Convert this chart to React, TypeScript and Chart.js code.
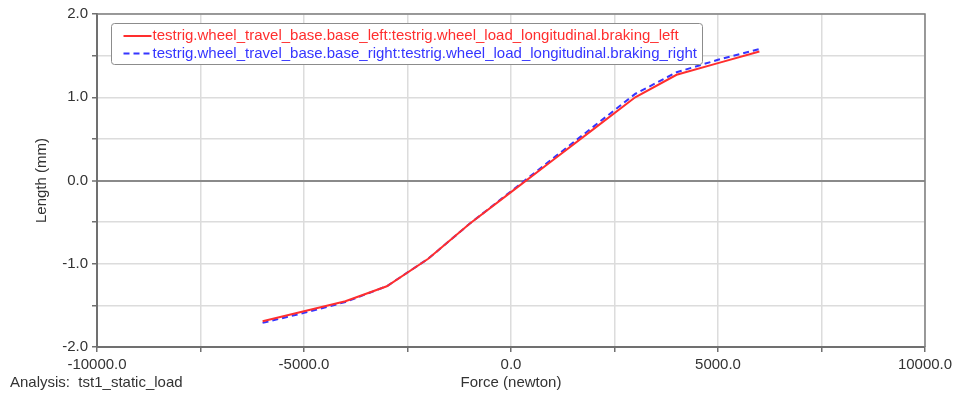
import React, { useEffect, useRef } from 'react';
import { Chart, registerables } from 'chart.js';

Chart.register(...registerables);

// ---- data ----
const forceN = [-6000, -5000, -4000, -3000, -2000, -1000, 0, 1000, 2000, 3000, 4000, 5000, 6000];
const lengthLeft = [-1.69, -1.57, -1.45, -1.27, -0.94, -0.52, -0.14, 0.24, 0.62, 1.0, 1.27, 1.41, 1.55];
const lengthRight = [-1.71, -1.59, -1.46, -1.27, -0.94, -0.52, -0.13, 0.26, 0.65, 1.04, 1.3, 1.45, 1.58];
const leftLabel = 'testrig.wheel_travel_base.base_left:testrig.wheel_load_longitudinal.braking_left';
const rightLabel = 'testrig.wheel_travel_base.base_right:testrig.wheel_load_longitudinal.braking_right';
const xTitle = 'Force (newton)';
const yTitle = 'Length (mm)';
const analysisLabel = 'Analysis:  tst1_static_load';
const xRange = [-10000, 10000];
const yRange = [-2, 2];

const FONT = '"Liberation Sans", Arial, sans-serif';
const RED = '#ff2e2e';
const BLUE = '#3535ff';
const TEXT = '#333333';

const decorPlugin = {
  id: 'decor',
  beforeDatasetsDraw(chart: any) {
    const { ctx, chartArea: a } = chart;
    ctx.save();
    ctx.strokeStyle = '#808080';
    ctx.lineWidth = 1.5;
    ctx.beginPath();
    ctx.moveTo(a.left, a.top);
    ctx.lineTo(a.right, a.top);
    ctx.lineTo(a.right, a.bottom);
    ctx.stroke();
    ctx.restore();
  },
  afterDraw(chart: any) {
    const { ctx, chartArea: a } = chart;
    const ds = chart.data.datasets;
    ctx.save();
    // legend box
    const bx = a.left + 14.5, by = a.top + 9.5, bw = 591, bh = 41;
    ctx.beginPath();
    ctx.roundRect(bx, by, bw, bh, 3);
    ctx.fillStyle = '#ffffff';
    ctx.fill();
    ctx.strokeStyle = '#8c8c8c';
    ctx.lineWidth = 1;
    ctx.stroke();
    ctx.font = `15px ${FONT}`;
    ctx.textBaseline = 'middle';
    ctx.textAlign = 'left';
    const rows = [a.top + 22, a.top + 39.5];
    ds.forEach((d: any, i: number) => {
      const y = rows[i];
      ctx.beginPath();
      ctx.setLineDash(d.borderDash || []);
      ctx.strokeStyle = d.borderColor;
      ctx.lineWidth = 2;
      ctx.moveTo(bx + 12, y);
      ctx.lineTo(bx + 40, y);
      ctx.stroke();
      ctx.setLineDash([]);
      ctx.fillStyle = d.borderColor;
      ctx.fillText(d.label, bx + 41, y);
    });
    // axis titles
    ctx.fillStyle = TEXT;
    ctx.textBaseline = 'alphabetic';
    ctx.textAlign = 'center';
    ctx.fillText(xTitle, (a.left + a.right) / 2, 386.5);
    ctx.textAlign = 'left';
    ctx.fillText(analysisLabel, 10, 386.5);
    ctx.save();
    ctx.translate(46, (a.top + a.bottom) / 2);
    ctx.rotate(-Math.PI / 2);
    ctx.textAlign = 'center';
    ctx.fillText(yTitle, 0, 0);
    ctx.restore();
    ctx.restore();
  },
};

export default function App() {
  const ref = useRef<HTMLCanvasElement>(null);
  useEffect(() => {
    document.body.style.margin = '0';
    const canvas = ref.current!;
    const chart = new Chart(canvas, {
      type: 'line',
      data: {
        datasets: [
          {
            label: leftLabel,
            data: forceN.map((x, i) => ({ x, y: lengthLeft[i] })),
            borderColor: RED,
            borderWidth: 2,
            pointRadius: 0,
            tension: 0,
            fill: false,
          },
          {
            label: rightLabel,
            data: forceN.map((x, i) => ({ x, y: lengthRight[i] })),
            borderColor: BLUE,
            borderWidth: 2,
            borderDash: [6, 4],
            pointRadius: 0,
            tension: 0,
            fill: false,
          },
        ],
      },
      options: {
        animation: false,
        responsive: false,
        devicePixelRatio: 1,
        layout: { padding: { top: 14, right: 34, left: 0, bottom: 0 } },
        plugins: { legend: { display: false }, tooltip: { enabled: false }, title: { display: false } },
        scales: {
          x: {
            type: 'linear',
            min: xRange[0],
            max: xRange[1],
            afterFit: (s: any) => { s.height = 46; },
            ticks: {
              stepSize: 2500,
              autoSkip: false,
              maxRotation: 0,
              padding: 4,
              color: TEXT,
              font: { family: FONT, size: 15 },
              callback: (v: any) => (Number(v) % 5000 === 0 ? Number(v).toFixed(1) : ''),
            },
            grid: {
              color: '#dcdcdc',
              lineWidth: 1.5,
              tickLength: 5,
              tickColor: '#707070',
              tickWidth: 1.5,
            },
            border: { display: true, color: '#707070', width: 2 },
          },
          y: {
            type: 'linear',
            min: yRange[0],
            max: yRange[1],
            afterFit: (s: any) => { s.width = 97; },
            ticks: {
              stepSize: 0.5,
              autoSkip: false,
              padding: 4,
              color: TEXT,
              font: { family: FONT, size: 15 },
              callback: (v: any) => (Math.abs(Number(v) % 1) < 1e-9 ? Number(v).toFixed(1) : ''),
            },
            grid: {
              color: (c: any) => (c.tick && c.tick.value === 0 ? '#8a8a8a' : '#dcdcdc'),
              lineWidth: (c: any) => (c.tick && c.tick.value === 0 ? 2 : 1.5),
              tickLength: 5,
              tickColor: '#707070',
              tickWidth: 1.5,
            },
            border: { display: true, color: '#707070', width: 2 },
          },
        },
      },
      plugins: [decorPlugin],
    } as any);
    return () => chart.destroy();
  }, []);
  return (
    <div style={{ width: 959, height: 393, background: '#fff' }}>
      <canvas ref={ref} width={959} height={393} style={{ display: 'block' }} />
    </div>
  );
}
